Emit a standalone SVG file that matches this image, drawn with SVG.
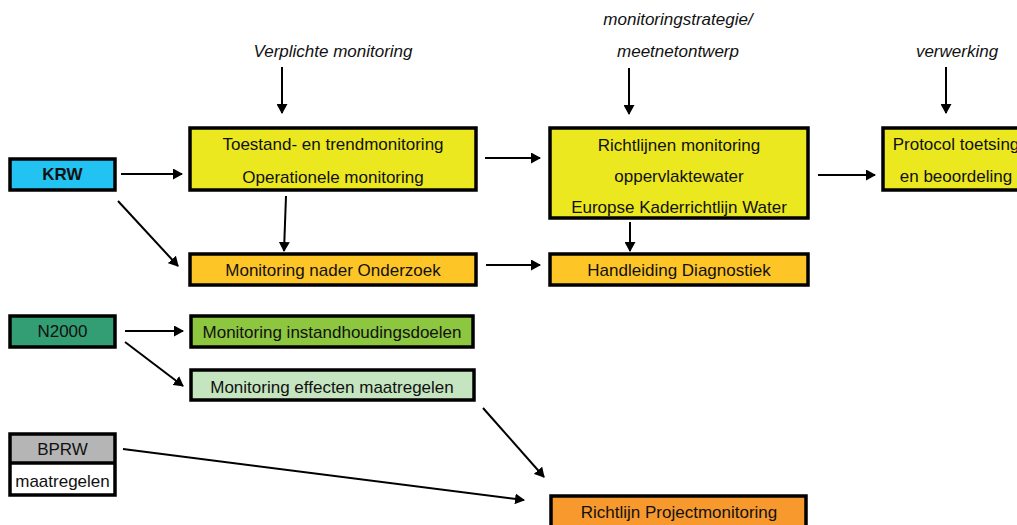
<svg xmlns="http://www.w3.org/2000/svg" width="1017" height="525" viewBox="0 0 1017 525">
  <style>
    .box { stroke: #000; stroke-width: 3.5; }
    .t { font-family: "Liberation Sans", Arial, sans-serif; font-size: 17px; fill: #111; text-anchor: middle; }
    .b { font-weight: bold; }
    .i { font-style: italic; }
    .conn line { stroke: #000; stroke-width: 2; marker-end: url(#arrow); }
  </style>
  <defs>
    <marker id="arrow" markerUnits="userSpaceOnUse" markerWidth="10" markerHeight="11" refX="9" refY="5.5" orient="auto">
      <path d="M0,0 L10,5.5 L0,11 z" fill="#000"/>
    </marker>
  </defs>
  <rect width="1017" height="525" fill="#fff"/>

  <!-- italic process labels -->
  <g id="labels">
    <text class="t i" x="333" y="57">Verplichte monitoring</text>
    <text class="t i" x="678" y="25">monitoringstrategie/</text>
    <text class="t i" x="678" y="57">meetnetontwerp</text>
    <text class="t i" x="957" y="57">verwerking</text>
  </g>

  <g id="krw">
    <rect class="box" x="10" y="159" width="105" height="31" fill="#22c3f2"/>
    <text class="t b" x="62.5" y="180">KRW</text>
  </g>

  <g id="toestand">
    <rect class="box" x="190" y="128" width="286" height="62" fill="#ece820"/>
    <text class="t" x="333" y="150">Toestand- en trendmonitoring</text>
    <text class="t" x="333" y="183">Operationele monitoring</text>
  </g>

  <g id="nader-onderzoek">
    <rect class="box" x="190" y="254" width="286" height="31" fill="#fec527"/>
    <text class="t" x="333" y="276">Monitoring nader Onderzoek</text>
  </g>

  <g id="richtlijnen">
    <rect class="box" x="550" y="128" width="258" height="90" fill="#ece820"/>
    <text class="t" x="679" y="151">Richtlijnen monitoring</text>
    <text class="t" x="679" y="182">oppervlaktewater</text>
    <text class="t" x="679" y="213">Europse Kaderrichtlijn Water</text>
  </g>

  <g id="diagnostiek">
    <rect class="box" x="550" y="254" width="258" height="31" fill="#fec527"/>
    <text class="t" x="679" y="276">Handleiding Diagnostiek</text>
  </g>

  <g id="protocol">
    <rect class="box" x="883" y="128" width="150" height="62" fill="#ece820"/>
    <text class="t" x="956" y="150">Protocol toetsing</text>
    <text class="t" x="956" y="182">en beoordeling</text>
  </g>

  <g id="n2000">
    <rect class="box" x="10" y="316" width="105" height="31" fill="#339e73"/>
    <text class="t" x="62.5" y="337">N2000</text>
  </g>

  <g id="instandhouding">
    <rect class="box" x="191" y="316" width="282" height="31" fill="#8dc63f"/>
    <text class="t" x="332" y="338">Monitoring instandhoudingsdoelen</text>
  </g>

  <g id="effecten">
    <rect class="box" x="191" y="370" width="283" height="30" fill="#c5e5c0"/>
    <text class="t" x="332" y="393">Monitoring effecten maatregelen</text>
  </g>

  <g id="bprw">
    <rect x="10" y="434" width="105" height="29" fill="#b5b5b5"/>
    <rect x="10" y="463" width="105" height="32" fill="#fff"/>
    <rect class="box" x="10" y="434" width="105" height="61" fill="none"/>
    <line x1="10" y1="463" x2="115" y2="463" stroke="#000" stroke-width="3.5"/>
    <text class="t" x="62.5" y="455">BPRW</text>
    <text class="t" x="62.5" y="487">maatregelen</text>
  </g>

  <g id="projectmonitoring">
    <rect class="box" x="551" y="496" width="255" height="31" fill="#f7992d"/>
    <text class="t" x="679" y="518">Richtlijn Projectmonitoring</text>
  </g>

  <g id="connectors" class="conn">
    <line x1="282" y1="67" x2="282" y2="113"/>
    <line x1="629" y1="68" x2="629" y2="114"/>
    <line x1="946" y1="67" x2="946" y2="113"/>
    <line x1="121" y1="174" x2="182" y2="174"/>
    <line x1="118" y1="201" x2="178" y2="266"/>
    <line x1="286" y1="196" x2="284" y2="251"/>
    <line x1="485" y1="158" x2="540" y2="158"/>
    <line x1="486" y1="265" x2="540" y2="265"/>
    <line x1="630" y1="222" x2="630" y2="251"/>
    <line x1="818" y1="175" x2="875" y2="175"/>
    <line x1="125" y1="331" x2="183" y2="331"/>
    <line x1="125" y1="342" x2="183" y2="386"/>
    <line x1="483" y1="408" x2="544" y2="477"/>
    <line x1="123" y1="449" x2="524" y2="500"/>
  </g>
</svg>
